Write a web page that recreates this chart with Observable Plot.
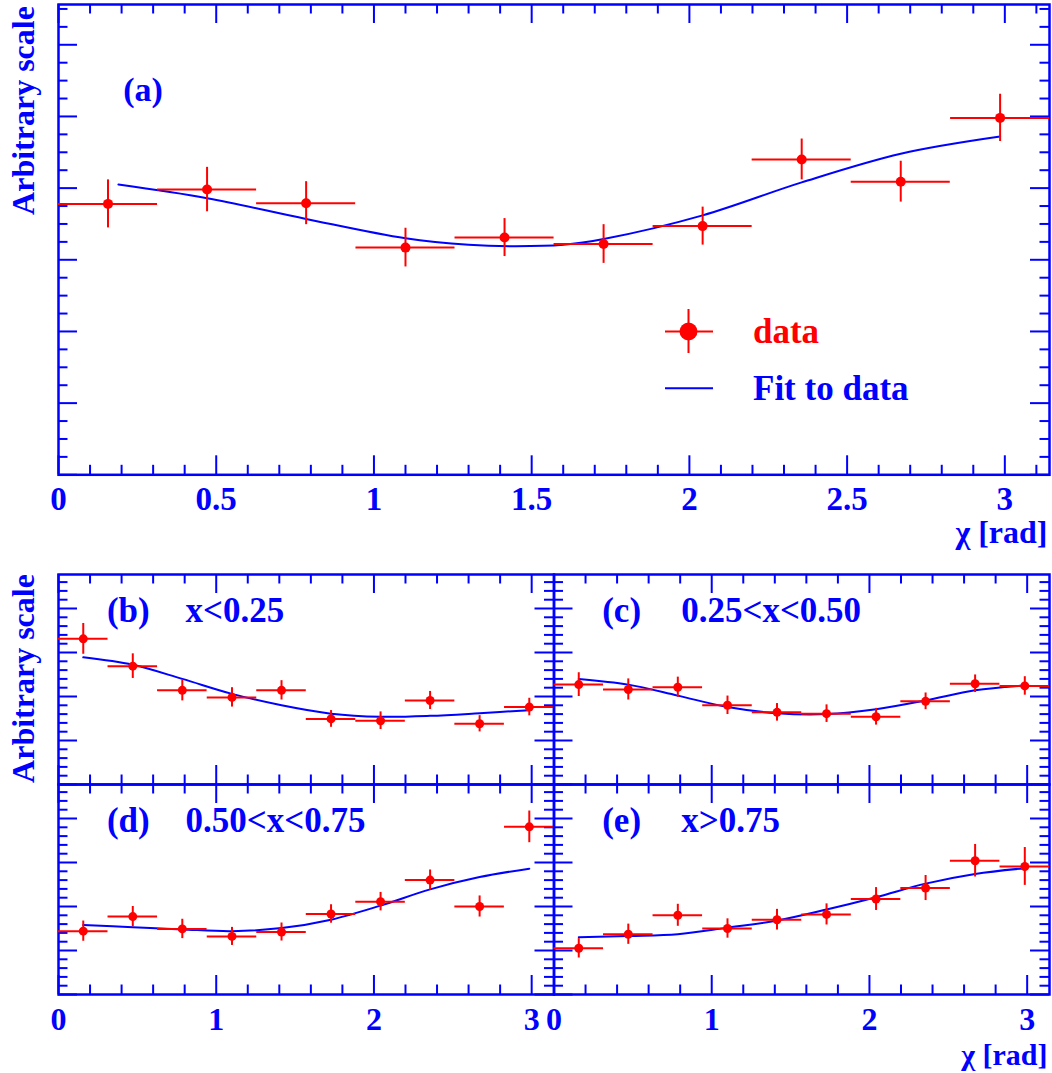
<!DOCTYPE html>
<html>
<head>
<meta charset="utf-8">
<script src="https://cdn.jsdelivr.net/npm/d3@7"></script>
<script src="https://cdn.jsdelivr.net/npm/@observablehq/plot@0.6"></script>
<style>
  html, body { margin: 0; padding: 0; background: #ffffff; }
  #chart { position: relative; width: 1052px; height: 1073px; overflow: hidden; background: #ffffff; }
  #chart svg { position: absolute; left: 0; top: 0; }
</style>
</head>
<body>
<div id="chart"></div>
<script>
// ---------------- DATA ----------------
const chiBins = [0.157, 0.471, 0.785, 1.100, 1.414, 1.728, 2.042, 2.356, 2.670, 2.985];
const binHalfWidth = 0.157;

// (a) all x
const valuesA = [3.78, 3.98, 3.79, 3.17, 3.31, 3.22, 3.47, 4.40, 4.09, 4.98];
const errorsA = [0.335, 0.31, 0.30, 0.27, 0.265, 0.27, 0.265, 0.285, 0.285, 0.33];
const fitChiA = [0.19, 0.471, 0.785, 1.100, 1.30, 1.45, 1.60, 1.728, 2.042, 2.356, 2.670, 2.985];
const fitA    = [4.05, 3.86, 3.57, 3.30, 3.21, 3.19, 3.21, 3.29, 3.62, 4.08, 4.48, 4.72];

// (b) x<0.25
const valuesB = [3.31, 2.69, 2.14, 1.98, 2.14, 1.49, 1.45, 1.91, 1.38, 1.76];
const errorsB = [0.35, 0.28, 0.24, 0.22, 0.22, 0.19, 0.20, 0.205, 0.185, 0.20];
const fitB    = [2.89, 2.72, 2.40, 2.06, 1.80, 1.61, 1.54, 1.56, 1.62, 1.69];

// (c) 0.25<x<0.50
const valuesC = [2.27, 2.16, 2.21, 1.80, 1.64, 1.61, 1.54, 1.89, 2.29, 2.24];
const errorsC = [0.27, 0.24, 0.23, 0.21, 0.20, 0.20, 0.19, 0.19, 0.20, 0.21];
const fitC    = [2.40, 2.27, 2.02, 1.76, 1.62, 1.60, 1.71, 1.91, 2.14, 2.25];

// (d) 0.50<x<0.75
const valuesD = [1.44, 1.77, 1.49, 1.32, 1.42, 1.83, 2.11, 2.60, 2.00, 3.81];
const errorsD = [0.23, 0.23, 0.22, 0.205, 0.205, 0.21, 0.21, 0.23, 0.24, 0.36];
const fitD    = [1.58, 1.53, 1.48, 1.44, 1.51, 1.70, 2.02, 2.39, 2.67, 2.86];

// (e) x>0.75
const valuesE = [1.05, 1.37, 1.80, 1.50, 1.70, 1.82, 2.17, 2.42, 3.04, 2.91];
const errorsE = [0.22, 0.23, 0.25, 0.22, 0.235, 0.24, 0.26, 0.285, 0.37, 0.43];
const fitE    = [1.30, 1.33, 1.37, 1.52, 1.68, 1.93, 2.21, 2.52, 2.74, 2.87];

// tick labels
const topTickValues = [0, 0.5, 1, 1.5, 2, 2.5, 3];
const topTickLabels = ["0", "0.5", "1", "1.5", "2", "2.5", "3"];
const lowTickValues = [0, 1, 2, 3];
const lowTickLabels = ["0", "1", "2", "3"];

const yTitle = "Arbitrary scale";
const xTitle = "χ [rad]";
const legendLabels = ["data", "Fit to data"];

// ---------------- STYLE ----------------
const W = 1052, H = 1073;
const BLUE = "#0000ff", RED = "#ff0000";
const FONT = "'Liberation Serif', 'Times New Roman', Times, serif";

const notMultiple = (step) => (d) => Math.abs(d / step - Math.round(d / step)) > 1e-6;
const round = (d) => Math.round(d * 1000) / 1000;

function makePanel(cfg) {
  const [L, T, R, B] = cfg.frame;
  const iw = R - L, ih = B - T;
  const rows = cfg.values.map((v, i) => ({chi: chiBins[i], v, e: cfg.errors[i]}));
  const fit = cfg.fitChi.map((c, i) => ({chi: c, v: cfg.fitValues[i]}));
  const xMinor = d3.range(cfg.xMinorStep, Math.PI, cfg.xMinorStep).map(round).filter(notMultiple(cfg.xMajorStep));
  const yMinor = d3.range(cfg.yMinorStep, cfg.yMax, cfg.yMinorStep).map(round).filter(notMultiple(1));
  const yMajor = d3.range(0, cfg.yMax, 1);
  const MAJ = 19, MIN = 9.5;
  const tickStyle = {stroke: BLUE, strokeWidth: 2};
  const txt = {fill: BLUE, fontFamily: FONT, fontWeight: "bold", lineAnchor: "bottom"};

  const marks = [
    // x ticks, bottom and top edges
    Plot.ruleX(cfg.xMajor, {x: d => d, insetTop: ih - MAJ, ...tickStyle}),
    Plot.ruleX(cfg.xMajor, {x: d => d, insetBottom: ih - MAJ, ...tickStyle}),
    Plot.ruleX(xMinor, {x: d => d, insetTop: ih - MIN, ...tickStyle}),
    Plot.ruleX(xMinor, {x: d => d, insetBottom: ih - MIN, ...tickStyle}),
    // y ticks, left and right edges
    Plot.ruleY(yMajor, {y: d => d, insetRight: iw - MAJ, ...tickStyle}),
    Plot.ruleY(yMajor, {y: d => d, insetLeft: iw - MAJ, ...tickStyle}),
    Plot.ruleY(yMinor, {y: d => d, insetRight: iw - MIN, ...tickStyle}),
    Plot.ruleY(yMinor, {y: d => d, insetLeft: iw - MIN, ...tickStyle}),
    Plot.frame({stroke: BLUE, strokeWidth: 2.5}),
    // fit
    Plot.line(fit, {x: "chi", y: "v", stroke: BLUE, strokeWidth: 2, curve: "catmull-rom"}),
    // data with error bars
    Plot.ruleY(rows, {y: "v", x1: d => d.chi - binHalfWidth, x2: d => d.chi + binHalfWidth, stroke: RED, strokeWidth: 2}),
    Plot.ruleX(rows, {x: "chi", y1: d => d.v - d.e, y2: d => d.v + d.e, stroke: RED, strokeWidth: 2}),
    Plot.dot(rows, {x: "chi", y: "v", r: cfg.r, fill: RED, stroke: "none"}),
    // panel label
    Plot.text([cfg.tag], {frameAnchor: "top-left", dx: cfg.tagDx, dy: cfg.tagDy, textAnchor: "start", fontSize: cfg.tagSize, ...txt}),
  ];
  if (cfg.range) {
    marks.push(Plot.text([cfg.range], {frameAnchor: "top-left", dx: cfg.rangeDx, dy: cfg.tagDy, textAnchor: "start", fontSize: cfg.tagSize, ...txt}));
  }
  if (cfg.tickLabels) {
    marks.push(Plot.text(cfg.tickValues, {x: d => d, text: (d, i) => cfg.tickLabels[i], frameAnchor: "bottom", dy: cfg.tickDy, textAnchor: "middle", fontSize: cfg.tickSize, ...txt}));
  }
  if (cfg.yTitle) {
    marks.push(Plot.text([cfg.yTitle], {frameAnchor: "top-left", dx: 33.5 - L, dy: cfg.yTitleCenter - T, rotate: -90, textAnchor: "middle", fontSize: 32, ...txt}));
  }
  if (cfg.xTitle) {
    marks.push(Plot.text([cfg.xTitle], {frameAnchor: "bottom-right", dx: -2, dy: cfg.xTitleDy, textAnchor: "end", fontSize: cfg.xTitleSize, ...txt}));
  }

  return Plot.plot({
    width: W, height: H,
    marginLeft: L, marginRight: W - R, marginTop: T, marginBottom: H - B,
    x: {domain: [0, Math.PI], axis: null},
    y: {domain: [0, cfg.yMax], axis: null},
    style: {background: "none", overflow: "visible"},
    marks
  });
}

const chart = document.getElementById("chart");
const lowYMax = 210 / 44;

const panels = [
  {frame: [58, 4, 1049, 474.3], yMax: 6.562, yMinorStep: 0.25, xMajor: topTickValues, xMajorStep: 0.5, xMinorStep: 0.1,
   values: valuesA, errors: errorsA, fitChi: fitChiA, fitValues: fitA, r: 5,
   tag: "(a)", tagDx: 64.7, tagDy: 96, tagSize: 34,
   tickValues: topTickValues, tickLabels: topTickLabels, tickDy: 35.2, tickSize: 33,
   yTitle, yTitleCenter: 110, xTitle, xTitleDy: 68, xTitleSize: 32},
  {frame: [58, 574, 553.5, 784], yMax: lowYMax, yMinorStep: 0.2, xMajor: lowTickValues, xMajorStep: 1, xMinorStep: 0.2,
   values: valuesB, errors: errorsB, fitChi: chiBins, fitValues: fitB, r: 4.5,
   tag: "(b)", tagDx: 48.4, tagDy: 47.5, tagSize: 35, range: "x<0.25", rangeDx: 127,
   yTitle, yTitleCenter: 678},
  {frame: [553.5, 574, 1049, 784], yMax: lowYMax, yMinorStep: 0.2, xMajor: lowTickValues, xMajorStep: 1, xMinorStep: 0.2,
   values: valuesC, errors: errorsC, fitChi: chiBins, fitValues: fitC, r: 4.5,
   tag: "(c)", tagDx: 48.2, tagDy: 47.5, tagSize: 35, range: "0.25<x<0.50", rangeDx: 127.2},
  {frame: [58, 784, 553.5, 994], yMax: lowYMax, yMinorStep: 0.2, xMajor: lowTickValues, xMajorStep: 1, xMinorStep: 0.2,
   values: valuesD, errors: errorsD, fitChi: chiBins, fitValues: fitD, r: 4.5,
   tag: "(d)", tagDx: 48.4, tagDy: 47.7, tagSize: 35, range: "0.50<x<0.75", rangeDx: 127,
   tickValues: lowTickValues, tickLabels: lowTickLabels, tickDy: 35, tickSize: 32},
  {frame: [553.5, 784, 1049, 994], yMax: lowYMax, yMinorStep: 0.2, xMajor: lowTickValues, xMajorStep: 1, xMinorStep: 0.2,
   values: valuesE, errors: errorsE, fitChi: chiBins, fitValues: fitE, r: 4.5,
   tag: "(e)", tagDx: 48.2, tagDy: 47.7, tagSize: 35, range: "x>0.75", rangeDx: 127.2,
   tickValues: lowTickValues, tickLabels: lowTickLabels, tickDy: 35, tickSize: 32,
   xTitle, xTitleDy: 70, xTitleSize: 30}
];

panels.forEach(cfg => chart.appendChild(makePanel(cfg)));

// ---------------- LEGEND (panel a) ----------------
const leg = d3.create("svg")
  .attr("width", W).attr("height", H)
  .style("overflow", "visible");
const g1 = leg.append("g");
g1.append("line").attr("x1", 665).attr("x2", 713).attr("y1", 331.5).attr("y2", 331.5).attr("stroke", RED).attr("stroke-width", 2);
g1.append("line").attr("x1", 688.5).attr("x2", 688.5).attr("y1", 309).attr("y2", 353).attr("stroke", RED).attr("stroke-width", 2);
g1.append("circle").attr("cx", 688.5).attr("cy", 331.5).attr("r", 9).attr("fill", RED);
leg.append("text").attr("x", 753).attr("y", 343.3).text(legendLabels[0])
  .attr("fill", RED).attr("font-family", FONT).attr("font-weight", "bold").attr("font-size", 35);
leg.append("line").attr("x1", 665).attr("x2", 713).attr("y1", 388.3).attr("y2", 388.3).attr("stroke", BLUE).attr("stroke-width", 2);
leg.append("text").attr("x", 753).attr("y", 400).text(legendLabels[1])
  .attr("fill", BLUE).attr("font-family", FONT).attr("font-weight", "bold").attr("font-size", 35);
chart.appendChild(leg.node());
</script>
</body>
</html>
